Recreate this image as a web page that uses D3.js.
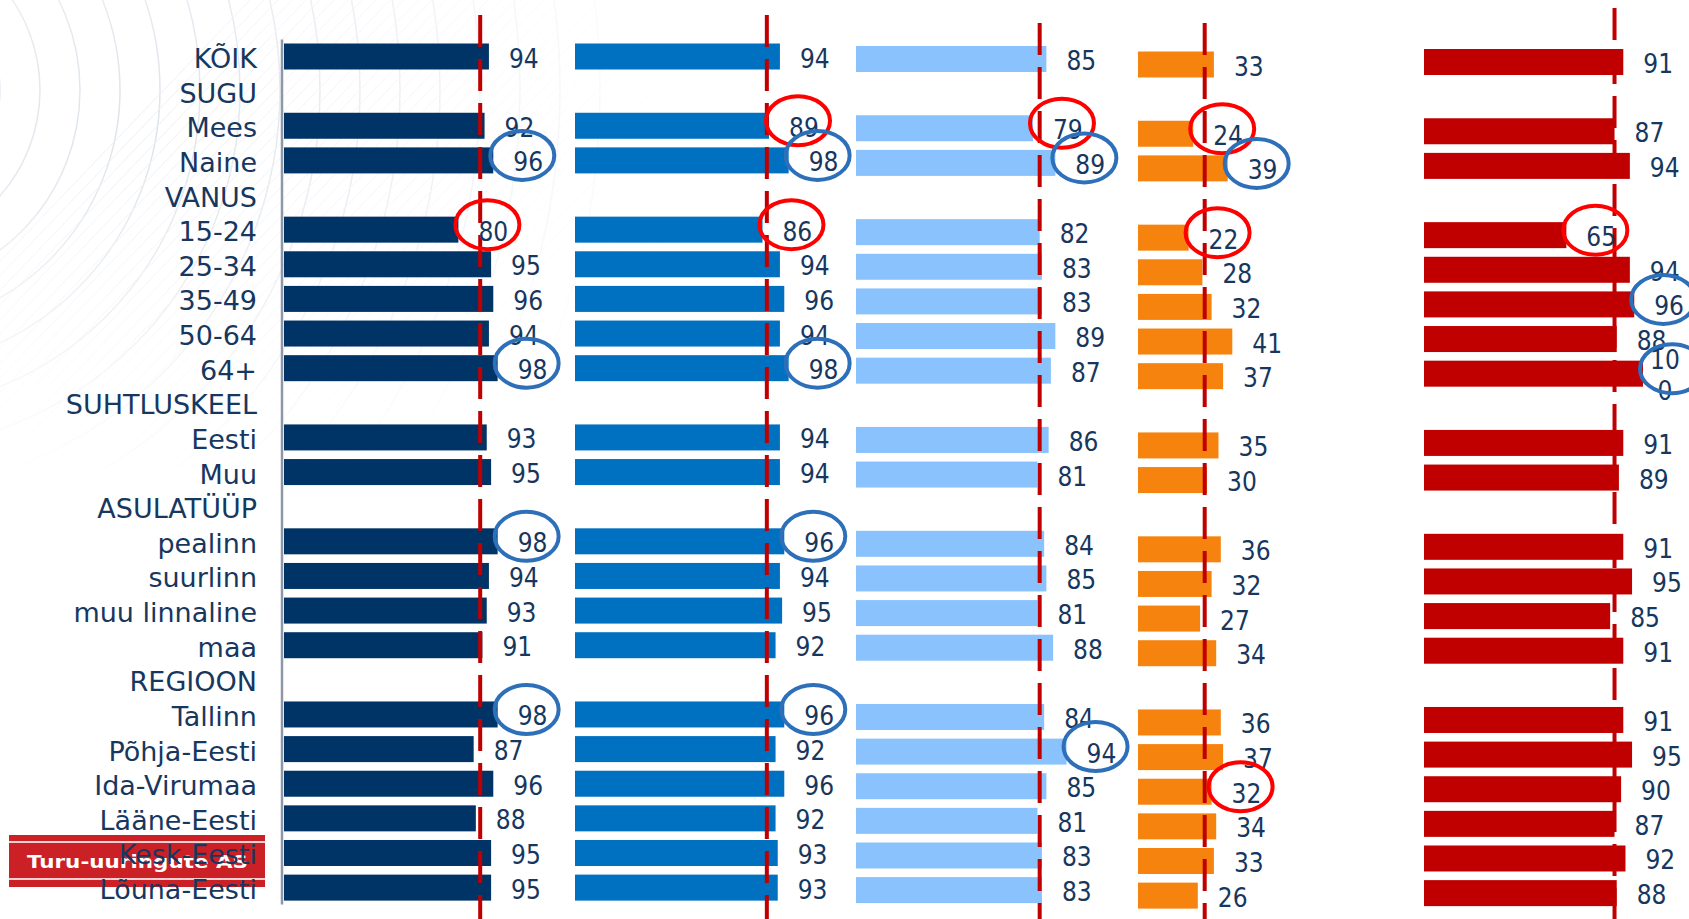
<!DOCTYPE html>
<html>
<head>
<meta charset="utf-8">
<script src="https://cdn.jsdelivr.net/npm/d3@7"></script>
<style>
  body { margin: 0; background: #fff; }
  svg { display: block; }
</style>
</head>
<body>
<div id="chart"></div>
<script>
// rows of the table, header rows have no values
var rows = ["KÕIK", "SUGU", "Mees", "Naine", "VANUS", "15-24", "25-34", "35-49", "50-64", "64+",
  "SUHTLUSKEEL", "Eesti", "Muu", "ASULATÜÜP", "pealinn", "suurlinn", "muu linnaline", "maa",
  "REGIOON", "Tallinn", "Põhja-Eesti", "Ida-Virumaa", "Lääne-Eesti", "Kesk-Eesti", "Lõuna-Eesti"];

var seriesA = [94, null, 92, 96, null, 80, 95, 96, 94, 98, null, 93, 95, null, 98, 94, 93, 91, null, 98, 87, 96, 88, 95, 95];
var seriesB = [94, null, 89, 98, null, 86, 94, 96, 94, 98, null, 94, 94, null, 96, 94, 95, 92, null, 96, 92, 96, 92, 93, 93];
var seriesC = [85, null, 79, 89, null, 82, 83, 83, 89, 87, null, 86, 81, null, 84, 85, 81, 88, null, 84, 94, 85, 81, 83, 83];
var seriesD = [33, null, 24, 39, null, 22, 28, 32, 41, 37, null, 35, 30, null, 36, 32, 27, 34, null, 36, 37, 32, 34, 33, 26];
var seriesE = [91, null, 87, 94, null, 65, 94, 96, 88, 100, null, 91, 89, null, 91, 95, 85, 91, null, 91, 95, 90, 87, 92, 88];

// dashed reference line of each column
var refValues = [90, 88, 82, 29, 87];

// circled values: [column, row]
var circledLow = [[0, "15-24"], [1, "Mees"], [1, "15-24"], [2, "Mees"], [3, "Mees"], [3, "15-24"], [3, "Ida-Virumaa"], [4, "15-24"]];
var circledHigh = [[0, "Naine"], [0, "64+"], [0, "pealinn"], [0, "Tallinn"], [1, "Naine"], [1, "64+"], [1, "pealinn"], [1, "Tallinn"],
  [2, "Naine"], [2, "Põhja-Eesti"], [3, "Naine"], [4, "35-49"], [4, "64+"]];

var logoText = "Turu-uuringute AS";

var series = [seriesA, seriesB, seriesC, seriesD, seriesE];

// layout of the five columns
var panels = [
  {x0: 284, x1: 502, dy: 0, color: "#003366", top: 15},
  {x0: 575, x1: 793, dy: 0, color: "#0070c0", top: 15},
  {x0: 856, x1: 1080, dy: 2.5, color: "#8ac2fd", top: 23},
  {x0: 1138, x1: 1368, dy: 8, color: "#f7830f", top: 23},
  {x0: 1424, x1: 1643, dy: 5.5, color: "#c00000", top: 8}
];

var W = 1689, H = 919;
var textColor = "#17375e";
var barH = 26;

var svg = d3.select("#chart")
  .append("svg")
    .attr("width", W)
    .attr("height", H);

// faint background decoration (top left)
var defs = svg.append("defs");
var grad = defs.append("radialGradient").attr("id", "fade")
  .attr("cx", 0.2).attr("cy", 0.25).attr("r", 0.8);
grad.append("stop").attr("offset", "0%").attr("stop-color", "#fff").attr("stop-opacity", 1);
grad.append("stop").attr("offset", "100%").attr("stop-color", "#fff").attr("stop-opacity", 0);
defs.append("mask").attr("id", "bgmask")
  .append("rect").attr("width", 720).attr("height", 470).attr("fill", "url(#fade)");

var bg = svg.append("g").attr("mask", "url(#bgmask)")
  .attr("fill", "none").attr("stroke", "#dde3ea").attr("stroke-width", 1.5);
bg.selectAll("circle")
  .data(d3.range(120, 760, 40))
  .enter().append("circle")
    .attr("cx", -120).attr("cy", 90)
    .attr("r", function (d) { return d; });
bg.selectAll("line")
  .data(d3.range(0, 720, 14))
  .enter().append("line")
    .attr("x1", function (d) { return d - 200; })
    .attr("y1", 470)
    .attr("x2", function (d) { return d + 250; })
    .attr("y2", 0)
    .attr("stroke", "#eceff3")
    .attr("stroke-width", 1);

// row position
var y = d3.scalePoint()
  .domain(rows)
  .range([56.5, 56.5 + 24 * 34.63]);

// logo box
var logo = svg.append("g");
logo.append("rect")
  .attr("x", 9).attr("y", 835).attr("width", 256).attr("height", 52)
  .attr("fill", "#cc2027");
logo.append("rect")
  .attr("x", 9).attr("y", 841).attr("width", 256).attr("height", 2)
  .attr("fill", "#f4d0d0");
logo.append("rect")
  .attr("x", 9).attr("y", 878).attr("width", 256).attr("height", 2)
  .attr("fill", "#f4d0d0");
logo.append("text")
  .attr("x", 27).attr("y", 861)
  .attr("dominant-baseline", "central")
  .attr("textLength", 221)
  .attr("lengthAdjust", "spacingAndGlyphs")
  .style("font-family", "'DejaVu Sans', Verdana, sans-serif")
  .style("font-weight", "bold")
  .style("font-size", "18px")
  .style("fill", "#fff")
  .text(logoText);

// row labels
svg.append("g")
  .selectAll("text")
  .data(rows)
  .enter().append("text")
    .attr("x", 257)
    .attr("y", function (d) { return y(d) + 2; })
    .attr("text-anchor", "end")
    .attr("dominant-baseline", "central")
    .style("font-family", "'DejaVu Sans', Verdana, sans-serif")
    .style("font-size", "27px")
    .style("fill", textColor)
    .text(function (d) { return d; });

// vertical axis line
svg.append("line")
  .attr("x1", 282).attr("x2", 282)
  .attr("y1", y(rows[0]) - 17).attr("y2", y(rows[rows.length - 1]) + 17)
  .attr("stroke", "#8e97a7")
  .attr("stroke-width", 2.5);

var numFont = "'DejaVu Sans Condensed', 'DejaVu Sans', sans-serif";

panels.forEach(function (p, i) {
  var x = d3.scaleLinear().domain([0, 100]).range([p.x0, p.x1]);
  var data = rows.map(function (r, j) { return {row: r, v: series[i][j]}; })
    .filter(function (d) { return d.v !== null; });
  var g = svg.append("g").attr("transform", "translate(0," + p.dy + ")");

  g.selectAll("rect")
    .data(data)
    .enter().append("rect")
      .attr("x", x(0))
      .attr("y", function (d) { return y(d.row) - barH / 2; })
      .attr("width", function (d) { return x(d.v) - x(0); })
      .attr("height", barH)
      .attr("fill", p.color);

  // dashed reference line
  g.append("line")
    .attr("x1", x(refValues[i])).attr("x2", x(refValues[i]))
    .attr("y1", p.top - p.dy).attr("y2", H)
    .attr("stroke", "#c00000")
    .attr("stroke-width", 4)
    .attr("stroke-dasharray", "32,12");

  // value labels (wrap when running off the page)
  data.forEach(function (d) {
    var lx = x(d.v) + 20;
    var txt = String(d.v);
    var t = g.append("text")
      .style("font-family", numFont)
      .style("font-size", "26px")
      .style("fill", textColor)
      .attr("dominant-baseline", "central");
    if (lx + txt.length * 15 > W) {
      t.attr("text-anchor", "middle");
      t.append("tspan").attr("x", lx + 2).attr("y", y(d.row) - 14).text(txt.slice(0, -1));
      t.append("tspan").attr("x", lx + 2).attr("y", y(d.row) + 17).text(txt.slice(-1));
    } else {
      t.attr("x", lx).attr("y", y(d.row) + 2).text(txt);
    }
  });

  // hand-drawn style circles
  function circles(list, color) {
    g.selectAll(null)
      .data(list.filter(function (c) { return c[0] === i; }))
      .enter().append("ellipse")
        .attr("cx", function (c) { return x(series[i][rows.indexOf(c[1])]) + 29; })
        .attr("cy", function (c) { return y(c[1]) - 5; })
        .attr("rx", 32)
        .attr("ry", 24.5)
        .attr("fill", "none")
        .attr("stroke", color)
        .attr("stroke-width", 4);
  }
  circles(circledLow, "#ff0000");
  circles(circledHigh, "#2e6fba");
});
</script>
</body>
</html>
